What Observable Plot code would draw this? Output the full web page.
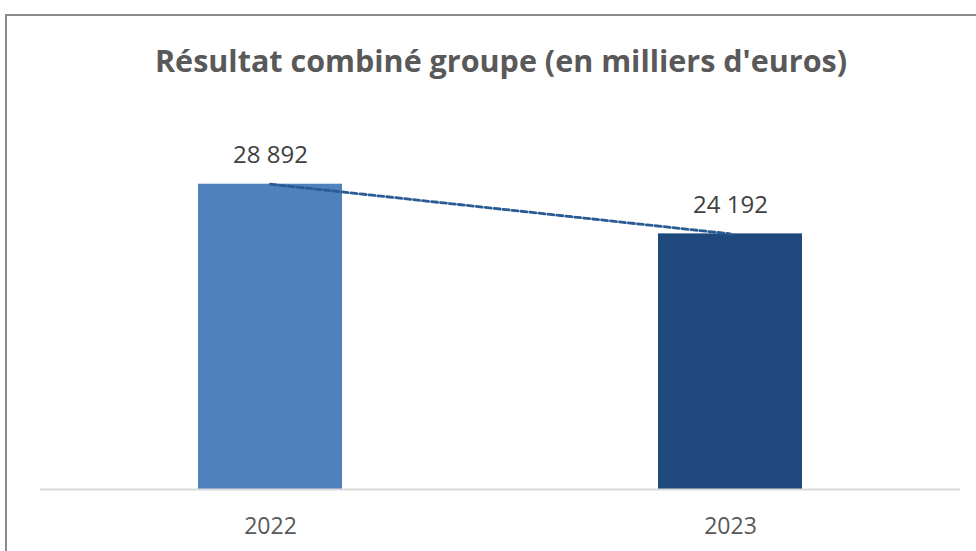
<!DOCTYPE html>
<html>
<head>
<meta charset="utf-8">
<script src="https://cdn.jsdelivr.net/npm/d3@7"></script>
<script src="https://cdn.jsdelivr.net/npm/@observablehq/plot@0.6"></script>
<style>
  html, body { margin: 0; padding: 0; background: #fff; }
  body { width: 976px; height: 551px; overflow: hidden; position: relative; font-family: "Open Sans", sans-serif; }
  #frame { position: absolute; left: 5px; top: 14px; width: 1100px; height: 700px; border-left: 2px solid #8a8a8a; border-top: 2px solid #8a8a8a; }
  #title { position: absolute; left: 0; top: 45px; width: 1002px; text-align: center; font-size: 30.5px; line-height: 30px; font-weight: bold; color: #595959; white-space: nowrap; }
  #chart { position: absolute; left: 0; top: 100px; }
</style>
</head>
<body>
<div id="frame"></div>
<div id="title">Résultat combiné groupe (en milliers d'euros)</div>
<div id="chart"></div>
<script>
const years = ["2022", "2023"];
const values = [28892, 24192];
const labels = ["28 892", "24 192"];
const barColors = ["#4f81bd", "#1f497d"];

const data = years.map((y, i) => ({year: y, value: values[i], label: labels[i], color: barColors[i]}));

const chart = Plot.plot({
  width: 976,
  height: 451,
  marginLeft: 40,
  marginRight: 16,
  marginTop: 72,
  marginBottom: 62,
  style: {fontFamily: "Open Sans, sans-serif", background: "transparent"},
  x: {domain: years, paddingInner: 0.687, paddingOuter: 0.3435, label: null},
  y: {domain: [0, 30000], axis: null},
  marks: [
    Plot.barY(data, {x: "year", y: "value", fill: "color"}),
    Plot.ruleY([0], {stroke: "#d9d9d9", strokeWidth: 2}),
    Plot.line(data, {x: "year", y: "value", stroke: "#2a5b94", strokeWidth: 2.8, strokeDasharray: "6,3"}),
    Plot.text(data, {x: "year", y: "value", text: "label", dy: -29, fontSize: 24, fill: "#404040"}),
    Plot.axisX({tickSize: 0, tickPadding: 28, fontSize: 23, color: "#595959", label: null})
  ]
});
document.getElementById("chart").appendChild(chart);
</script>
</body>
</html>
